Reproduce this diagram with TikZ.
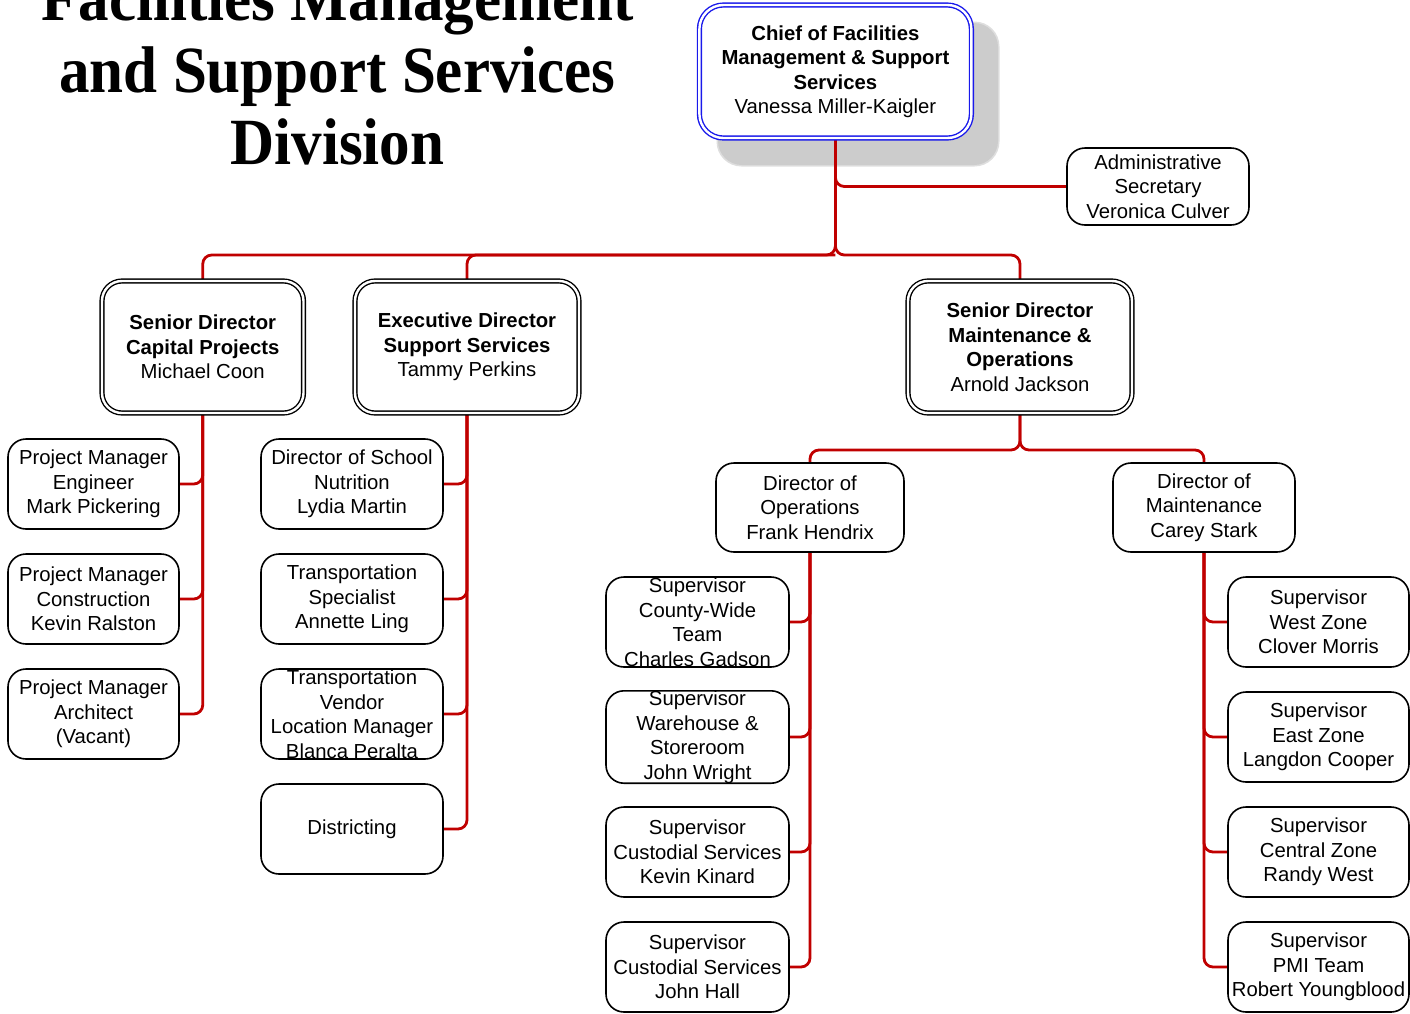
\documentclass[tikz,border=0pt]{standalone}
\usepackage{fontspec}
\setmainfont{Liberation Sans}
\newfontfamily\titlefont{Liberation Serif}
\usetikzlibrary{backgrounds}

\definecolor{linkred}{RGB}{192,0,0}
\definecolor{chiefblue}{RGB}{25,25,235}
\newcommand\boxfont{\fontsize{20.3}{24.5}\selectfont}
\newcommand\narrowtitle[1]{\scalebox{0.925}[1]{#1}}

\tikzset{
  box/.style={draw=black, line width=1.6pt, rounded corners=18pt, fill=white,
    align=center, inner sep=0pt, font=\boxfont},
  headbox/.style={box, double=white, double distance=2.4pt, line width=1.4pt,
    rounded corners=20pt},
  conn/.style={draw=linkred, line width=2.8pt, rounded corners=9pt},
  titletext/.style={inner sep=0pt, anchor=base,
    font=\titlefont\bfseries\fontsize{66}{72}\selectfont},
  leafbox/.style={box, minimum width=#1, minimum height=90pt},
}

\begin{document}
\begin{tikzpicture}[x=1pt, y=-1pt]
\useasboundingbox (0,0) rectangle (1410,1013);

% division title
\node[titletext] (title1) at (337.5,20) {\narrowtitle{Facilities Management}};
\node[titletext] (title2) at (337.5,92) {\narrowtitle{and Support Services}};
\node[titletext] (title3) at (337.5,164) {\narrowtitle{Division}};

% chief and secretary
\node[headbox, draw=chiefblue, rounded corners=24pt, minimum width=272pt, minimum height=133pt]
  (chief) at (835.4,71.5)
  {\textbf{Chief of Facilities}\\\textbf{Management \& Support}\\\textbf{Services}\\Vanessa Miller-Kaigler};
\node[box, minimum width=182pt, minimum height=77pt] (admin) at (1158,186.5)
  {Administrative\\Secretary\\Veronica Culver};

% directors
\node[headbox, minimum width=201.5pt, minimum height=132pt] (cap) at (202.75,347)
  {\textbf{Senior Director}\\\textbf{Capital Projects}\\Michael Coon};
\node[headbox, minimum width=224pt, minimum height=132pt] (sup) at (467,347)
  {\textbf{Executive Director}\\\textbf{Support Services}\\Tammy Perkins};
\node[headbox, minimum width=224pt, minimum height=132pt] (mno) at (1020,347)
  {\textbf{Senior Director}\\\textbf{Maintenance \&}\\\textbf{Operations}\\Arnold Jackson};

% capital projects staff
\node[leafbox=171pt] (pm1) at (93.5,484) {Project Manager\\Engineer\\Mark Pickering};
\node[leafbox=171pt] (pm2) at (93.5,599) {Project Manager\\Construction\\Kevin Ralston};
\node[leafbox=171pt] (pm3) at (93.5,714) {Project Manager\\Architect\\(Vacant)};

% support services staff
\node[leafbox=182pt] (ss1) at (352,484) {Director of School\\Nutrition\\Lydia Martin};
\node[leafbox=182pt] (ss2) at (352,599) {Transportation\\Specialist\\Annette Ling};
\node[leafbox=182pt] (ss3) at (352,714) {Transportation\\Vendor\\Location Manager\\Blanca Peralta};
\node[leafbox=182pt] (ss4) at (352,829) {Districting};

% maintenance & operations directors
\node[box, minimum width=188pt, minimum height=89pt] (dops) at (810,507.5)
  {Director of\\Operations\\Frank Hendrix};
\node[box, minimum width=182pt, minimum height=89pt] (dmnt) at (1204,507.5)
  {Director of\\Maintenance\\Carey Stark};

% operations supervisors
\node[leafbox=183pt] (op1) at (697.5,622) {Supervisor\\County-Wide\\Team\\Charles Gadson};
\node[leafbox=183pt] (op2) at (697.5,737) {Supervisor\\Warehouse \&\\Storeroom\\John Wright};
\node[leafbox=183pt] (op3) at (697.5,852) {Supervisor\\Custodial Services\\Kevin Kinard};
\node[leafbox=183pt] (op4) at (697.5,967) {Supervisor\\Custodial Services\\John Hall};

% maintenance supervisors
\node[leafbox=181pt] (mt1) at (1318.5,622) {Supervisor\\West Zone\\Clover Morris};
\node[leafbox=181pt] (mt2) at (1318.5,737) {Supervisor\\East Zone\\Langdon Cooper};
\node[leafbox=181pt] (mt3) at (1318.5,852) {Supervisor\\Central Zone\\Randy West};
\node[leafbox=181pt] (mt4) at (1318.5,967) {Supervisor\\PMI Team\\Robert Youngblood};

\begin{scope}[on background layer]
  % drop shadow behind the chief box
  \fill[black!13, rounded corners=25pt] (716.5,21.5) rectangle (999.5,166.5);
  \fill[black!20, rounded corners=24pt] (718,23) rectangle (998,165);

  \coordinate (j1) at (835.4,255);
  \coordinate (j2) at (1020,450);

  \draw[conn] (chief.south) |- (admin.west);
  \draw[conn] (chief.south) |- (j1 -| cap.north) -- (cap.north);
  \draw[conn] (sup.north) |- (j1);
  \draw[conn] (chief.south) |- (j1 -| mno.north) -- (mno.north);

  \foreach \c in {pm1,pm2,pm3} \draw[conn] (\c.east) -| (cap.south);
  \foreach \c in {ss1,ss2,ss3,ss4} \draw[conn] (\c.east) -| (sup.south);

  \draw[conn] (mno.south) |- (j2 -| dops.north) -- (dops.north);
  \draw[conn] (mno.south) |- (j2 -| dmnt.north) -- (dmnt.north);

  \foreach \c in {op1,op2,op3,op4} \draw[conn] (\c.east) -| (dops.south);
  \foreach \c in {mt1,mt2,mt3,mt4} \draw[conn] (\c.west) -| (dmnt.south);
\end{scope}
\end{tikzpicture}
\end{document}
